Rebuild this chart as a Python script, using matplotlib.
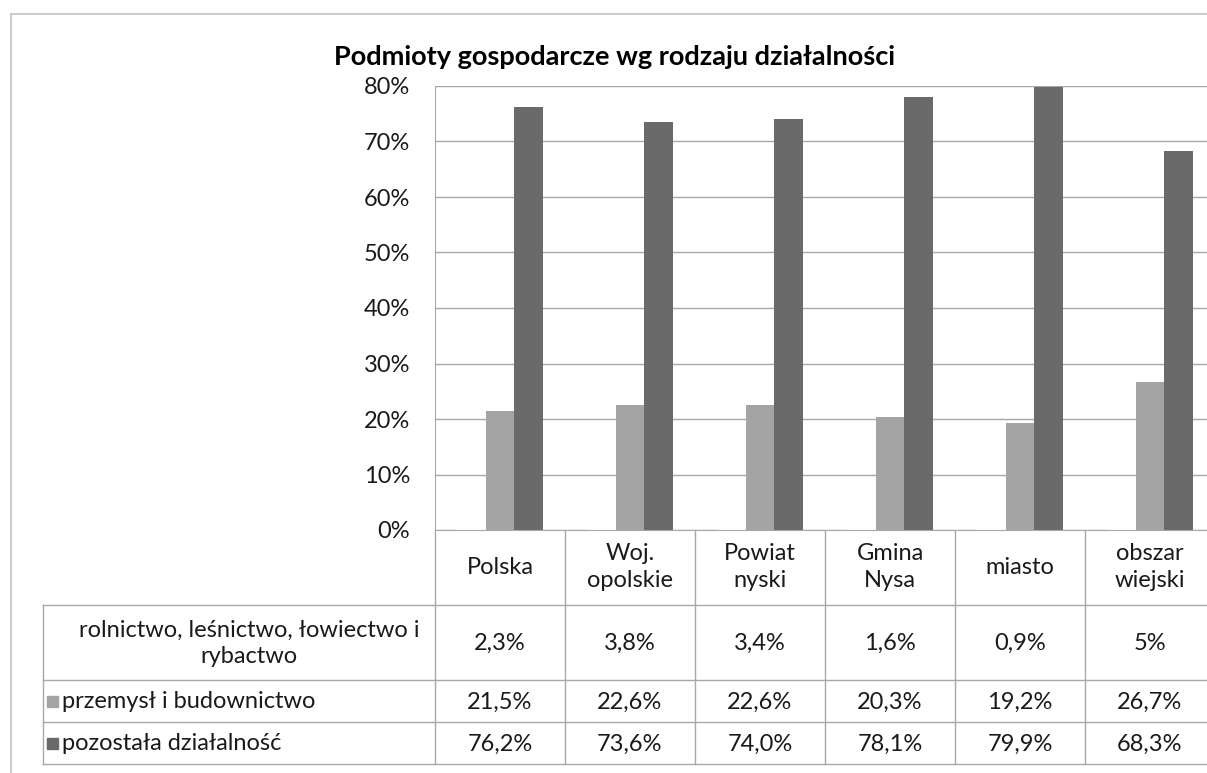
import matplotlib.pyplot as plt
import numpy as np
from matplotlib.patches import Rectangle

"""DATA"""
categories = ["Polska", "Woj.\nopolskie", "Powiat\nnyski", "Gmina\nNysa", "miasto", "obszar\nwiejski"]
series_names = ["rolnictwo, leśnictwo, łowiectwo i\nrybactwo", "przemysł i budownictwo", "pozostała działalność"]
rolnictwo = [2.3, 3.8, 3.4, 1.6, 0.9, 5.0]
przemysl = [21.5, 22.6, 22.6, 20.3, 19.2, 26.7]
pozostala = [76.2, 73.6, 74.0, 78.1, 79.9, 68.3]
yticks = [0, 10, 20, 30, 40, 50, 60, 70, 80]

"""COLORS AND STYLE"""
_light = "#a4a4a4"
_dark = "#6a6a6a"
_text = "#1a1a1a"
_grid = "#a8a8a8"
plt.rcParams["font.family"] = ["Lato", "DejaVu Sans"]

W, H = 1207, 773
fig = plt.figure(figsize=(W / 100, H / 100), dpi=100)
fig.patch.set_facecolor("white")

# plot area in pixels
_left, _right, _top, _bottom = 435, 1215, 86, 530
ax = fig.add_axes([_left / W, 1 - _bottom / H, (_right - _left) / W, (_bottom - _top) / H])

x = np.arange(len(categories))
w = 0.222
ax.bar(x - w, rolnictwo, width=w, color="white", zorder=3)
ax.bar(x, przemysl, width=w, color=_light, zorder=3)
ax.bar(x + w, pozostala, width=w, color=_dark, zorder=3)

ax.set_xlim(-0.5, len(categories) - 0.5)
ax.set_ylim(0, 80)
ax.set_yticks(yticks)
ax.set_yticklabels([str(t) + "%" for t in yticks], fontsize=17, color=_text)
ax.set_xticks([])
ax.tick_params(axis="y", length=0, pad=18)
ax.yaxis.grid(True, color=_grid, linewidth=1)
ax.set_axisbelow(True)
for s in ["top", "right"]:
    ax.spines[s].set_visible(False)
for s in ["left", "bottom"]:
    ax.spines[s].set_color(_grid)
    ax.spines[s].set_zorder(5)

"""TITLE"""
fig.text(614 / W, 1 - 57 / H, "Podmioty gospodarcze wg rodzaju działalności",
         fontsize=19.5, fontweight="bold", color="black", ha="center", va="center")

"""DATA TABLE (pixel overlay)"""
tab = fig.add_axes([0, 0, 1, 1], zorder=-1)
tab.set_xlim(0, W)
tab.set_ylim(H, 0)
tab.axis("off")

_col = (_right - _left) / len(categories)
_rows = [605, 680, 722, 764]
_tleft = 43

# outer chart frame
tab.plot([11, 11], [14, H], color="#c4c4c4", linewidth=1.2)
tab.plot([11, W], [14, 14], color="#c4c4c4", linewidth=1.2)

for yy in _rows:
    tab.plot([_tleft, _right], [yy, yy], color=_grid, linewidth=1)
tab.plot([_tleft, _tleft], [_rows[0], _rows[-1]], color=_grid, linewidth=1)
for i in range(len(categories) + 1):
    xx = _left + i * _col
    tab.plot([xx, xx], [_bottom, _rows[-1]], color=_grid, linewidth=1)

for i, c in enumerate(categories):
    cx = _left + (i + 0.5) * _col
    tab.text(cx, 567, c, ha="center", va="center", fontsize=17, color=_text, linespacing=1.4)

row_values = [rolnictwo, przemysl, pozostala]
row_fmt = ["{:g}", "{:.1f}", "{:.1f}"]
for r, vals in enumerate(row_values):
    cy = (_rows[r] + _rows[r + 1]) / 2
    for i, v in enumerate(vals):
        cx = _left + (i + 0.5) * _col
        s = row_fmt[r].format(v).replace(".", ",") + "%"
        tab.text(cx, cy + 1, s, ha="center", va="center", fontsize=17, color=_text)

# row labels
tab.text(249, (_rows[0] + _rows[1]) / 2 + 1, series_names[0], ha="center", va="center",
         fontsize=17, color=_text, linespacing=1.3)
for r, col in [(1, _light), (2, _dark)]:
    cy = (_rows[r] + _rows[r + 1]) / 2
    tab.add_patch(Rectangle((47, cy - 5), 11, 11, color=col))
    tab.text(62, cy + 1, series_names[r], ha="left", va="center", fontsize=17, color=_text)

fig.savefig("out.png", dpi=100)
